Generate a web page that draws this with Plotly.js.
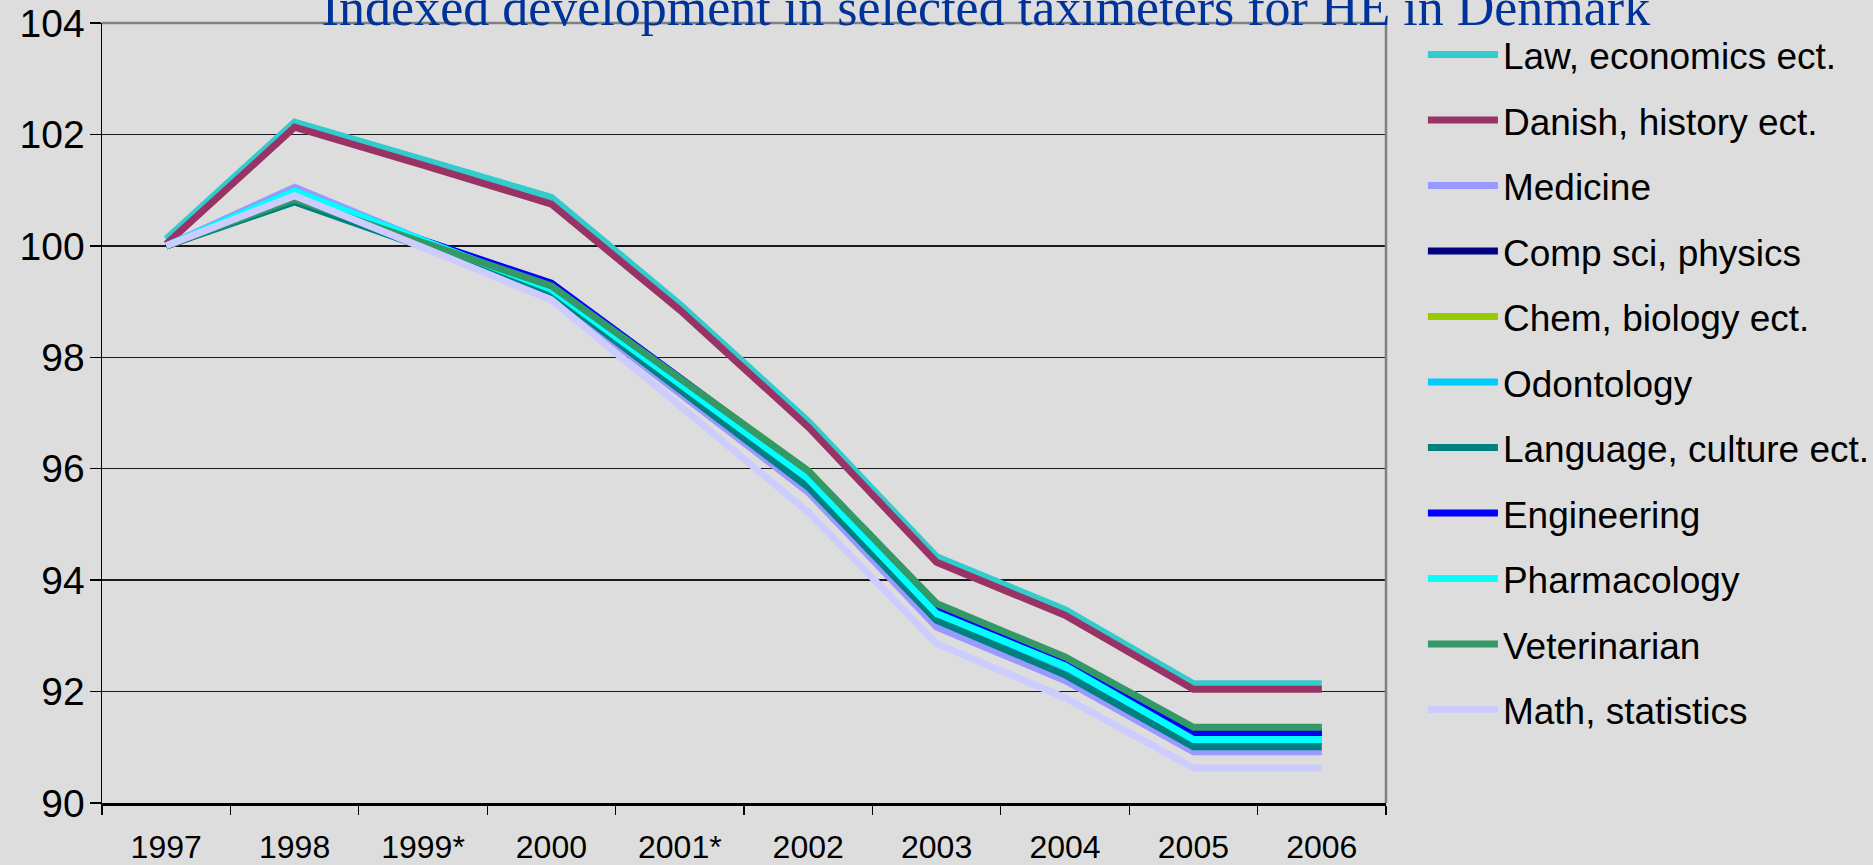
<!DOCTYPE html>
<html>
<head>
<meta charset="utf-8">
<script src="https://cdn.plot.ly/plotly-3.0.1.min.js"></script>
<style>
  html, body { margin: 0; padding: 0; background: #dddddd; }
  #chart { width: 1873px; height: 865px; }
</style>
</head>
<body>
<div id="chart"></div>
<script>
// ---- Data ----
var years = ["1997", "1998", "1999*", "2000", "2001*", "2002", "2003", "2004", "2005", "2006"];

var seriesNames = [
  "Law, economics ect.", "Danish, history ect.", "Medicine", "Comp sci, physics",
  "Chem, biology ect.", "Odontology", "Language, culture ect.", "Engineering",
  "Pharmacology", "Veterinarian", "Math, statistics"
];

var lawEconomics   = [100.12, 102.22, 101.55, 100.87, 98.95, 96.85, 94.42, 93.47, 92.14, 92.14];
var danishHistory  = [100.03, 102.13, 101.45, 100.75, 98.85, 96.75, 94.32, 93.37, 92.04, 92.04];
var medicine       = [100.00, 101.05, 100.10,  99.12, 97.35, 95.58, 93.16, 92.20, 90.92, 90.92];
var compSci        = [100.00, 100.85, 100.10,  99.30, 97.60, 95.90, 93.47, 92.52, 91.26, 91.26];
var chemBiology    = [100.00, 100.83, 100.05,  99.28, 97.62, 95.96, 93.56, 92.60, 91.34, 91.34];
var odontology     = [100.00, 100.98, 100.10,  99.20, 97.50, 95.80, 93.38, 92.44, 91.12, 91.12];
var language       = [100.00, 100.79,  99.98,  99.17, 97.42, 95.67, 93.28, 92.30, 91.01, 91.01];
var engineering    = [100.00, 100.86, 100.10,  99.33, 97.63, 95.92, 93.49, 92.53, 91.28, 91.28];
var pharmacology   = [100.00, 100.98, 100.10,  99.22, 97.52, 95.82, 93.40, 92.46, 91.14, 91.14];
var veterinarian   = [100.00, 100.84, 100.06,  99.28, 97.62, 95.96, 93.58, 92.62, 91.36, 91.36];
var mathStatistics = [100.00, 100.90,  99.97,  99.03, 97.13, 95.22, 92.86, 91.89, 90.63, 90.63];

var seriesValues = [lawEconomics, danishHistory, medicine, compSci, chemBiology, odontology,
                    language, engineering, pharmacology, veterinarian, mathStatistics];

var seriesColors = ["#33CCCC", "#993366", "#9999FF", "#000080", "#99CC00", "#00CCFF",
                    "#008080", "#0000FF", "#00FFFF", "#339966", "#CCCCFF"];

var yTicks = [90, 92, 94, 96, 98, 100, 102, 104];

// ---- Traces ----
var traces = seriesNames.map(function (name, i) {
  return {
    type: "scatter",
    mode: "lines",
    name: name,
    legendgroup: "g" + i,
    x: years,
    y: seriesValues[i],
    line: { color: seriesColors[i], width: 7, shape: "linear" },
    hoverinfo: "x+y+name"
  };
});

var layout = {
  width: 1873,
  height: 865,
  paper_bgcolor: "#dddddd",
  plot_bgcolor: "#dddddd",
  margin: { l: 102, r: 487, t: 23, b: 62, pad: 0 },
  showlegend: true,
  title: {
    text: "Indexed development in selected taximeters for HE in Denmark",
    font: { family: "Liberation Serif, Times New Roman, serif", size: 52, color: "#003399" },
    xref: "container", yref: "container",
    x: 0.5264, xanchor: "center",
    y: 0.9715, yanchor: "bottom"
  },
  xaxis: {
    type: "category",
    categoryorder: "array",
    categoryarray: years,
    range: [-0.5, 9.5],
    tickson: "boundaries",
    ticks: "outside",
    ticklen: 9,
    tickwidth: 1.3,
    tickcolor: "#000000",
    showgrid: false,
    showline: true,
    linecolor: "#000000",
    linewidth: 2.5,
    zeroline: false,
    ticklabelstandoff: 14,
    ticklabeloverflow: "allow",
    tickfont: { family: "Liberation Sans, Arial, sans-serif", size: 32, color: "#000000" },
    fixedrange: true
  },
  yaxis: {
    range: [90, 104],
    tickvals: yTicks,
    ticktext: yTicks.map(String),
    ticks: "outside",
    ticklen: 11,
    tickwidth: 1.3,
    tickcolor: "#000000",
    showgrid: true,
    gridcolor: "#1a1a1a",
    gridwidth: 1.3,
    showline: true,
    linecolor: "#000000",
    linewidth: 1.5,
    zeroline: false,
    ticklabelstandoff: -3,
    ticklabeloverflow: "allow",
    tickfont: { family: "Liberation Sans, Arial, sans-serif", size: 39, color: "#000000" },
    fixedrange: true
  },
  legend: {
    xref: "container", yref: "container",
    x: 0.7597, xanchor: "left",
    y: 0.9722, yanchor: "top",
    bgcolor: "rgba(0,0,0,0)",
    borderwidth: 0,
    font: { family: "Liberation Sans, Arial, sans-serif", size: 37, color: "#000000" },
    itemwidth: 70,
    tracegroupgap: 14.4,
    traceorder: "grouped",
    maxheight: 860
  },
  shapes: [
    { type: "line", xref: "paper", yref: "paper", x0: 0, x1: 1, y0: 1, y1: 1,
      line: { color: "#808080", width: 2.5 }, layer: "above" },
    { type: "line", xref: "paper", yref: "paper", x0: 1, x1: 1, y0: 0, y1: 1,
      line: { color: "#808080", width: 2.5 }, layer: "above" }
  ]
};

Plotly.newPlot("chart", traces, layout, { displayModeBar: false, staticPlot: true });
</script>
</body>
</html>
